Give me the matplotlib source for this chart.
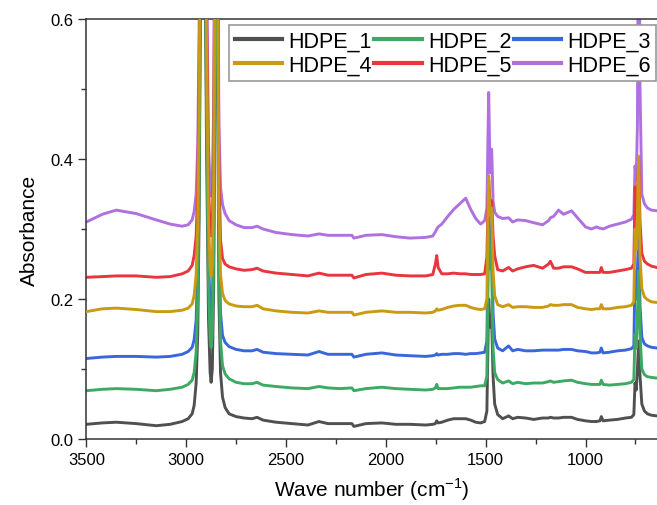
import matplotlib

matplotlib.use("Agg")
import matplotlib.pyplot as plt
from matplotlib.ticker import MultipleLocator

# Wave numbers (cm-1) shared by all spectra
wavenumber = [
    3500, 3420, 3350, 3250, 3150, 3080, 3020, 2990, 2970, 2960,
    2950, 2942, 2935, 2928, 2918, 2908, 2898, 2888, 2880, 2875,
    2869, 2862, 2856, 2850, 2843, 2836, 2828, 2818, 2805, 2785,
    2750, 2710, 2670, 2645, 2615, 2550, 2470, 2390, 2335, 2290,
    2230, 2170, 2160, 2100, 2020, 1950, 1880, 1800, 1765, 1752,
    1745, 1738, 1720, 1690, 1660, 1630, 1600, 1575, 1550, 1525,
    1505, 1494, 1485, 1478, 1470, 1463, 1455, 1440, 1415, 1385,
    1365, 1340, 1300, 1260, 1215, 1185, 1176, 1160, 1135, 1110,
    1070, 1040, 1000, 970, 945, 928, 921, 912, 880, 840,
    800, 770, 758, 752, 746, 740, 734, 727, 718, 705,
    690, 670, 642,
]

hdpe_1 = [
    0.021, 0.023, 0.024, 0.022, 0.019, 0.021, 0.025, 0.029, 0.036, 0.048,
    0.080, 0.15, 0.32, 0.65, 1.00, 0.80, 0.42, 0.17, 0.095, 0.081,
    0.10, 0.22, 0.55, 0.95, 0.55, 0.20, 0.095, 0.060, 0.045, 0.036,
    0.032, 0.030, 0.029, 0.031, 0.027, 0.024, 0.022, 0.020, 0.025, 0.022,
    0.022, 0.022, 0.018, 0.022, 0.023, 0.021, 0.021, 0.020, 0.021, 0.022,
    0.026, 0.023, 0.024, 0.027, 0.029, 0.029, 0.029, 0.027, 0.024, 0.023,
    0.025, 0.040, 0.20, 0.16, 0.17, 0.09, 0.050, 0.035, 0.029, 0.033,
    0.029, 0.031, 0.030, 0.028, 0.030, 0.030, 0.031, 0.030, 0.030, 0.031,
    0.031, 0.028, 0.026, 0.025, 0.025, 0.026, 0.032, 0.026, 0.027, 0.028,
    0.030, 0.031, 0.035, 0.08, 0.07, 0.10, 0.14, 0.09, 0.050, 0.040,
    0.036, 0.034, 0.033,
]

hdpe_2 = [
    0.069, 0.071, 0.072, 0.071, 0.069, 0.071, 0.074, 0.078, 0.084, 0.095,
    0.125, 0.20, 0.37, 0.70, 1.05, 0.85, 0.47, 0.22, 0.145, 0.131,
    0.15, 0.27, 0.60, 1.00, 0.60, 0.25, 0.14, 0.105, 0.093, 0.086,
    0.081, 0.079, 0.079, 0.081, 0.077, 0.075, 0.073, 0.072, 0.075, 0.073,
    0.072, 0.073, 0.069, 0.072, 0.074, 0.072, 0.071, 0.070, 0.071, 0.073,
    0.078, 0.072, 0.072, 0.072, 0.073, 0.074, 0.074, 0.074, 0.075, 0.076,
    0.076, 0.09, 0.30, 0.25, 0.24, 0.13, 0.095, 0.085, 0.080, 0.083,
    0.079, 0.081, 0.079, 0.080, 0.080, 0.082, 0.083, 0.081, 0.082, 0.083,
    0.084, 0.081, 0.079, 0.078, 0.078, 0.078, 0.084, 0.078, 0.077, 0.078,
    0.079, 0.081, 0.085, 0.15, 0.13, 0.18, 0.24, 0.15, 0.10, 0.092,
    0.089, 0.088, 0.087,
]

hdpe_3 = [
    0.115, 0.117, 0.118, 0.118, 0.117, 0.118, 0.121, 0.125, 0.131, 0.142,
    0.17, 0.25, 0.42, 0.75, 1.10, 0.90, 0.52, 0.26, 0.185, 0.17,
    0.19, 0.31, 0.65, 1.05, 0.65, 0.29, 0.18, 0.148, 0.138, 0.132,
    0.128, 0.126, 0.126, 0.128, 0.124, 0.122, 0.121, 0.120, 0.125, 0.121,
    0.121, 0.121, 0.117, 0.121, 0.123, 0.120, 0.119, 0.118, 0.119, 0.120,
    0.122, 0.120, 0.121, 0.121, 0.122, 0.122, 0.121, 0.122, 0.122, 0.123,
    0.124, 0.14, 0.33, 0.28, 0.28, 0.18, 0.143, 0.130, 0.126, 0.133,
    0.126, 0.128, 0.126, 0.126, 0.127, 0.127, 0.127, 0.127, 0.127, 0.128,
    0.128, 0.126, 0.125, 0.123, 0.123, 0.124, 0.130, 0.123, 0.124, 0.126,
    0.127, 0.129, 0.133, 0.24, 0.20, 0.24, 0.30, 0.19, 0.145, 0.136,
    0.133, 0.131, 0.130,
]

hdpe_4 = [
    0.182, 0.186, 0.187, 0.185, 0.182, 0.182, 0.184, 0.187, 0.193, 0.205,
    0.235, 0.31, 0.48, 0.80, 1.15, 0.95, 0.57, 0.31, 0.245, 0.233,
    0.25, 0.37, 0.70, 1.10, 0.70, 0.34, 0.235, 0.208, 0.198, 0.193,
    0.190, 0.189, 0.189, 0.191, 0.186, 0.183, 0.181, 0.180, 0.183, 0.181,
    0.181, 0.181, 0.177, 0.181, 0.183, 0.181, 0.181, 0.180, 0.181, 0.183,
    0.186, 0.184, 0.185, 0.188, 0.190, 0.191, 0.191, 0.188, 0.186, 0.185,
    0.186, 0.20, 0.376, 0.32, 0.33, 0.24, 0.205, 0.192, 0.189, 0.192,
    0.188, 0.189, 0.189, 0.188, 0.188, 0.190, 0.192, 0.191, 0.191, 0.192,
    0.192, 0.188, 0.186, 0.185, 0.186, 0.186, 0.192, 0.186, 0.186, 0.188,
    0.189, 0.191, 0.196, 0.30, 0.27, 0.32, 0.404, 0.26, 0.215, 0.203,
    0.199, 0.196, 0.195,
]

hdpe_5 = [
    0.231, 0.232, 0.233, 0.233, 0.231, 0.232, 0.236, 0.240, 0.248, 0.262,
    0.29, 0.36, 0.53, 0.85, 1.20, 1.00, 0.62, 0.36, 0.30, 0.29,
    0.305, 0.42, 0.75, 1.15, 0.75, 0.39, 0.285, 0.258, 0.250, 0.246,
    0.243, 0.241, 0.242, 0.244, 0.240, 0.237, 0.235, 0.233, 0.237, 0.234,
    0.234, 0.234, 0.230, 0.235, 0.237, 0.234, 0.233, 0.233, 0.235, 0.250,
    0.262, 0.245, 0.236, 0.236, 0.237, 0.236, 0.236, 0.235, 0.235, 0.235,
    0.236, 0.26, 0.37, 0.34, 0.34, 0.29, 0.262, 0.242, 0.240, 0.245,
    0.240, 0.243, 0.246, 0.248, 0.244, 0.250, 0.254, 0.244, 0.244, 0.246,
    0.246, 0.243, 0.238, 0.238, 0.238, 0.238, 0.245, 0.238, 0.238, 0.240,
    0.242, 0.244, 0.250, 0.36, 0.33, 0.35, 0.40, 0.31, 0.265, 0.254,
    0.250, 0.247, 0.245,
]

hdpe_6 = [
    0.310, 0.321, 0.327, 0.322, 0.313, 0.307, 0.304, 0.306, 0.313, 0.325,
    0.35, 0.42, 0.58, 0.90, 1.25, 1.05, 0.68, 0.42, 0.36, 0.347,
    0.365, 0.48, 0.80, 1.20, 0.80, 0.45, 0.36, 0.335, 0.322, 0.312,
    0.306, 0.302, 0.302, 0.304, 0.300, 0.295, 0.292, 0.290, 0.293, 0.291,
    0.291, 0.291, 0.287, 0.291, 0.292, 0.289, 0.287, 0.288, 0.290, 0.296,
    0.300, 0.303, 0.307, 0.318, 0.328, 0.336, 0.344, 0.328, 0.315, 0.307,
    0.312, 0.33, 0.495, 0.38, 0.414, 0.34, 0.324, 0.318, 0.315, 0.316,
    0.310, 0.313, 0.312, 0.309, 0.306, 0.312, 0.316, 0.318, 0.327, 0.321,
    0.326, 0.316, 0.303, 0.300, 0.303, 0.301, 0.301, 0.300, 0.304, 0.307,
    0.310, 0.314, 0.320, 0.39, 0.37, 0.45, 0.85, 0.50, 0.35, 0.336,
    0.330, 0.327, 0.326,
]

labels = ["HDPE_1", "HDPE_2", "HDPE_3", "HDPE_4", "HDPE_5", "HDPE_6"]
colors = ["#505050", "#3daa63", "#3a66dc", "#c99a12", "#e8353f", "#b070e0"]


def main():
    plt.rcParams["font.family"] = ["Liberation Sans", "DejaVu Sans"]

    fig = plt.figure(figsize=(6.57, 5.06), dpi=100)
    ax = fig.add_axes([0.1314, 0.1304, 0.8686, 0.8301])

    spectra = [hdpe_1, hdpe_2, hdpe_3, hdpe_4, hdpe_5, hdpe_6]
    # stacking order seen in the picture: gold on top, then green
    zorders = [3, 4, 2, 6, 1, 0]
    handles = []
    for values, label, color, z in zip(spectra, labels, colors, zorders):
        (line,) = ax.plot(wavenumber, values, color=color, lw=2.1, label=label,
                          zorder=2 + z * 0.1, solid_joinstyle="round")
        handles.append(line)

    ax.set_xlim(3500, 642)
    ax.set_ylim(0, 0.6)

    ax.xaxis.set_major_locator(MultipleLocator(500))
    ax.xaxis.set_minor_locator(MultipleLocator(250))
    ax.yaxis.set_major_locator(MultipleLocator(0.2))
    ax.yaxis.set_minor_locator(MultipleLocator(0.1))
    ax.yaxis.set_major_formatter(lambda v, pos: f"{v:.1f}")

    ax.tick_params(which="major", direction="out", length=6, width=1,
                   labelsize=12, color="#333333")
    ax.tick_params(which="minor", direction="out", length=3.5, width=1,
                   color="#333333")

    for side in ["left", "bottom", "top"]:
        ax.spines[side].set_color("#333333")
        ax.spines[side].set_linewidth(1.1)
    ax.spines["right"].set_visible(False)

    ax.set_xlabel(r"Wave number (cm$^{\mathregular{-1}}$)", fontsize=15, labelpad=6)
    ax.set_ylabel("Absorbance", fontsize=15, labelpad=8)

    # legend rows: HDPE_1..3 on top, HDPE_4..6 below
    order = [0, 3, 1, 4, 2, 5]
    leg = ax.legend([handles[i] for i in order], [labels[i] for i in order],
                    ncol=3, loc="upper right", bbox_to_anchor=(0.999, 0.985),
                    borderaxespad=0, fontsize=15.5, handlelength=2.2,
                    handletextpad=0.3, columnspacing=0.1, labelspacing=0.15,
                    borderpad=0.25, fancybox=False, framealpha=1,
                    edgecolor="#999999")
    leg.get_frame().set_linewidth(1.2)
    for line in leg.get_lines():
        line.set_linewidth(3)

    fig.savefig("out.png", dpi=100)


if __name__ == "__main__":
    main()
